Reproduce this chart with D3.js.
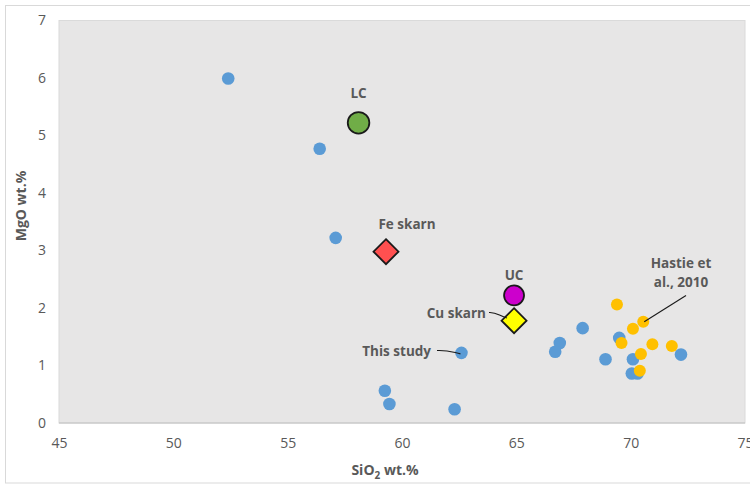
<!DOCTYPE html>
<html><head><meta charset="utf-8">
<script src="https://cdn.jsdelivr.net/npm/d3@7"></script>
<style>body{margin:0;background:#fff}svg{display:block}</style>
</head><body>
<svg id="c" width="750" height="484"></svg>
<script>
// This study (blue)
const studySiO2 = [52.4, 56.4, 57.1, 62.6, 59.25, 59.45, 62.3, 67.9, 66.9, 66.7, 68.9, 69.5, 70.1, 70.05, 70.3, 72.2];
const studyMgO  = [5.99, 4.77, 3.22, 1.22, 0.56, 0.33, 0.24, 1.65, 1.39, 1.24, 1.11, 1.48, 1.11, 0.86, 0.86, 1.19];
// Hastie et al., 2010 (yellow)
const hastieSiO2 = [69.4, 70.1, 70.55, 69.6, 70.95, 71.8, 70.45, 70.4];
const hastieMgO  = [2.06, 1.64, 1.76, 1.39, 1.37, 1.34, 1.20, 0.91];
// Reference compositions
const refNames = ["LC", "Fe skarn", "UC", "Cu skarn"];
const refSiO2  = [58.1, 59.3, 64.9, 64.9];
const refMgO   = [5.22, 2.98, 2.22, 1.78];
const refShape = ["circle", "diamond", "circle", "diamond"];
const refColor = ["#70AD47", "#FF5050", "#CC00CC", "#FFFF00"];
const xTicks = [45, 50, 55, 60, 65, 70, 75];
const yTicks = [0, 1, 2, 3, 4, 5, 6, 7];

const svg = d3.select("#c");
const L = 59, R = 745, T = 20.5, B = 423;
const x = d3.scaleLinear().domain([45, 75]).range([L, R]);
const y = d3.scaleLinear().domain([0, 7]).range([B, T]);
const font = "'Open Sans', sans-serif";
const grey = "#595959";

// outer chart border
svg.append("rect").attr("x", 5.5).attr("y", 5.5).attr("width", 800).attr("height", 477.5)
  .attr("fill", "#fff").attr("stroke", "#d9d9d9").attr("stroke-width", 1);
// plot area
svg.append("rect").attr("x", L).attr("y", T).attr("width", R - L).attr("height", B - T)
  .attr("fill", "#e7e6e6").attr("stroke", "#dadada");
svg.append("line").attr("x1", L).attr("x2", R).attr("y1", B).attr("y2", B)
  .attr("stroke", "#bfbfbf").attr("stroke-width", 1.2);

// axes
const xa = svg.append("g").attr("transform", `translate(0,${B})`)
  .call(d3.axisBottom(x).tickValues(xTicks).tickSize(0).tickPadding(15).tickFormat(d3.format("d")));
const ya = svg.append("g").attr("transform", `translate(${L},0)`)
  .call(d3.axisLeft(y).tickValues(yTicks).tickSize(0).tickPadding(13).tickFormat(d3.format("d")));
[xa, ya].forEach(a => {
  a.select(".domain").remove();
  a.selectAll("text").attr("fill", grey).style("font-family", font).style("font-size", "14px");
});

// axis titles
const xt = svg.append("text").attr("x", 385).attr("y", 475).attr("text-anchor", "middle")
  .attr("fill", grey).style("font-family", font).style("font-size", "14px").style("font-weight", "bold");
xt.append("tspan").text("SiO");
xt.append("tspan").text("2").attr("dy", 4).style("font-size", "10px");
xt.append("tspan").text(" wt.%").attr("dy", -4);
svg.append("text").attr("transform", "translate(26,206) rotate(-90)").attr("text-anchor", "middle")
  .attr("fill", grey).style("font-family", font).style("font-size", "14px").style("font-weight", "bold")
  .text("MgO wt.%");

// data points
svg.append("g").selectAll("circle").data(d3.range(studySiO2.length)).join("circle")
  .attr("cx", i => x(studySiO2[i])).attr("cy", i => y(studyMgO[i])).attr("r", 6.3)
  .attr("fill", "#5B9BD5");
svg.append("g").selectAll("circle").data(d3.range(hastieSiO2.length)).join("circle")
  .attr("cx", i => x(hastieSiO2[i])).attr("cy", i => y(hastieMgO[i])).attr("r", 6)
  .attr("fill", "#FFC000");

// reference markers
const ref = svg.append("g");
refNames.forEach((n, i) => {
  const cx = x(refSiO2[i]), cy = y(refMgO[i]);
  if (refShape[i] === "circle") {
    ref.append("circle").attr("cx", cx).attr("cy", cy).attr("r", n === "LC" ? 10.8 : 10)
      .attr("fill", refColor[i]).attr("stroke", "#1a1a1a").attr("stroke-width", 1.8);
  } else {
    const h = 12.5;
    ref.append("path").attr("d", `M${cx},${cy - h}L${cx + h},${cy}L${cx},${cy + h}L${cx - h},${cy}Z`)
      .attr("fill", refColor[i]).attr("stroke", "#1a1a1a").attr("stroke-width", 1.8);
  }
});

// labels
function label(t, px, py, anchor) {
  svg.append("text").attr("x", px).attr("y", py).attr("text-anchor", anchor || "middle")
    .attr("fill", grey).style("font-family", font).style("font-size", "13.5px").style("font-weight", "bold")
    .text(t);
}
label("LC", x(refSiO2[0]), 98);
label("Fe skarn", 407, 229);
label("UC", x(refSiO2[2]), 280);
label("Cu skarn", 486, 318, "end");
label("This study", 431, 356, "end");
label("Hastie et", 681, 268);
label("al., 2010", 681, 287);

// leader lines
const ln = svg.append("g").attr("fill", "none").attr("stroke", "#1a1a1a").attr("stroke-width", 1.1);
ln.append("path").attr("d", "M489,312.5 C497,312 499,316 507,318");
ln.append("path").attr("d", `M437,350.5 C448,350 452,352 ${x(studySiO2[3]) - 1},${y(studyMgO[3]) + 1}`);
ln.append("path").attr("d", `M686,295.5 L${x(hastieSiO2[2]) + 1},${y(hastieMgO[2])}`);
</script>
</body></html>
